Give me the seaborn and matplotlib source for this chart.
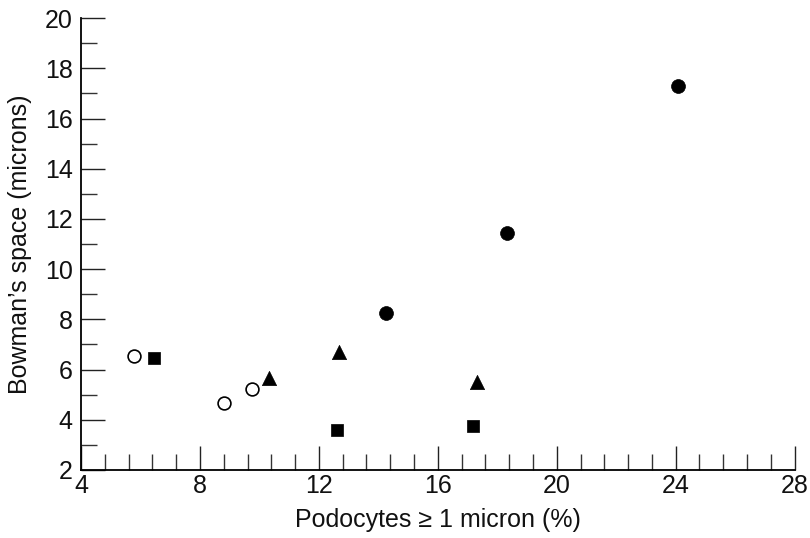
import numpy as np
import pandas as pd
import matplotlib
matplotlib.use("Agg")
import matplotlib.pyplot as plt
import seaborn as sns
from matplotlib.ticker import MultipleLocator

# 그룹별 데이터 (x: Podocytes >= 1 micron %, y: Bowman's space)
open_x = [5.78, 8.81, 9.75]
open_y = [6.54, 4.67, 5.23]
square_x = [6.45, 12.6, 17.18]
square_y = [6.46, 3.6, 3.75]
tri_x = [10.32, 12.67, 17.31]
tri_y = [5.67, 6.70, 5.5]
dot_x = [14.25, 18.32, 24.07]
dot_y = [8.25, 11.44, 17.3]

xticks = [4, 8, 12, 16, 20, 24, 28]
yticks = [2, 4, 6, 8, 10, 12, 14, 16, 18, 20]

sns.set_style("ticks")
plt.rcParams['font.family'] = ['Liberation Sans', 'DejaVu Sans']

df = pd.concat([
    pd.DataFrame({"x": open_x, "y": open_y, "g": "open"}),
    pd.DataFrame({"x": square_x, "y": square_y, "g": "square"}),
    pd.DataFrame({"x": tri_x, "y": tri_y, "g": "tri"}),
    pd.DataFrame({"x": dot_x, "y": dot_y, "g": "dot"}),
])

styles = {
    "open": dict(marker="o", facecolor="white", edgecolor="black", s=85, linewidth=1.2),
    "square": dict(marker="s", facecolor="black", edgecolor="black", s=85, linewidth=0.5),
    "tri": dict(marker="^", facecolor="black", edgecolor="black", s=105, linewidth=0.5),
    "dot": dict(marker="o", facecolor="black", edgecolor="black", s=100, linewidth=0.5),
}

fig = plt.figure(figsize=(8.1, 5.38), dpi=100)
ax = fig.add_axes([0.1, 0.1264, 0.881, 0.84])
for g, kw in styles.items():
    sns.scatterplot(data=df[df.g == g], x="x", y="y", ax=ax, legend=False, zorder=3, **kw)

ax.set_xlim(4, 28)
ax.set_ylim(2, 20)
ax.set_xticks(xticks)
ax.set_yticks(yticks)
ax.xaxis.set_minor_locator(MultipleLocator(0.8))
ax.yaxis.set_minor_locator(MultipleLocator(1))
ax.tick_params(which="major", direction="in", length=17, width=1, color="#222222",
               labelsize=18, labelcolor="#111111")
ax.tick_params(which="minor", direction="in", length=11.5, width=1, color="#333333")
ax.tick_params(axis="x", pad=3)
ax.tick_params(axis="y", pad=6)
for s in ["top", "right"]:
    ax.spines[s].set_visible(False)
for s in ["left", "bottom"]:
    ax.spines[s].set_linewidth(1.3)
    ax.spines[s].set_color("black")

ax.set_xlabel("Podocytes ≥ 1 micron (%)", fontsize=18, labelpad=7, color="#111111")
ax.set_ylabel("Bowman’s space (microns)", fontsize=18, labelpad=9, color="#111111")

fig.savefig("out.png", dpi=100)
